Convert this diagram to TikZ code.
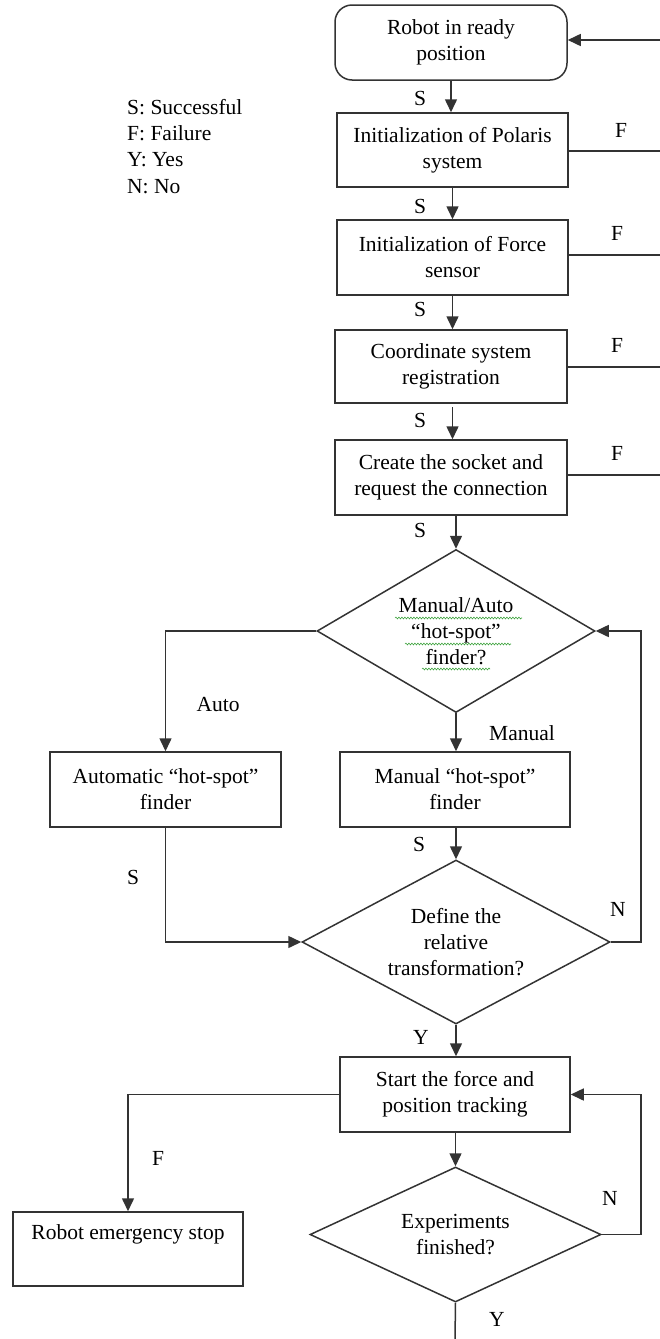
\documentclass[tikz,border=0pt]{standalone}
\usepackage{fontspec}
\setmainfont{Liberation Serif}
\usetikzlibrary{arrows.meta,shapes.geometric,decorations.pathmorphing}
\definecolor{linec}{HTML}{333333}
\definecolor{spellc}{HTML}{3FA33F}
\tikzset{
  base/.style={font=\fontsize{21.5}{26}\selectfont, text=black},
  box/.style={base, draw=linec, line width=1.5pt, rectangle, align=center, inner sep=0pt},
  rbox/.style={box, rounded corners=17pt},
  decision/.style={base, draw=linec, line width=1.5pt, diamond, align=center, inner sep=0pt},
  lbl/.style={base, inner sep=0pt},
  conn/.style={draw=linec, line width=1.5pt},
  arr/.style={conn, -{Triangle[length=13pt,width=12pt]}},
  wavy/.style={draw=spellc, line width=0.6pt, decorate,
    decoration={snake, segment length=3pt, amplitude=0.9pt}},
}
\begin{document}
\begin{tikzpicture}[x=1pt,y=-1pt]
\useasboundingbox (0,0) rectangle (660,1339);

% legend
\node[lbl, anchor=west] (lgS) at (127,107) {S: Successful};
\node[lbl, anchor=west] (lgF) at (127,133) {F: Failure};
\node[lbl, anchor=west] (lgY) at (127,160) {Y: Yes};
\node[lbl, anchor=west] (lgN) at (127,187) {N: No};

% main column
\node[rbox, minimum width=232pt, minimum height=75pt] (ready) at (451,42.5) {Robot in ready\\position};
\node[box, minimum width=231pt, minimum height=74pt] (polaris) at (452.5,150) {Initialization of Polaris\\system};
\node[box, minimum width=231pt, minimum height=75pt] (force) at (452.5,257.5) {Initialization of Force\\sensor};
\node[box, minimum width=232pt, minimum height=73pt] (coord) at (451,366.5) {Coordinate system\\registration};
\node[box, minimum width=232pt, minimum height=75pt] (socket) at (451,477.5) {Create the socket and\\request the connection};

\node[decision, shape aspect=1.7, minimum width=278pt, minimum height=163pt] (hsq) at (456,631)
  {Manual/Auto\\“hot-spot”\\finder?};

\node[box, minimum width=231pt, minimum height=75pt] (auto) at (165.5,789.5) {Automatic “hot-spot”\\finder};
\node[box, minimum width=230pt, minimum height=75pt] (manual) at (455,789.5) {Manual “hot-spot”\\finder};

\node[decision, shape aspect=1.88, minimum width=308pt, minimum height=164pt] (rel) at (456,942)
  {Define the\\relative\\transformation?};

\node[box, minimum width=230pt, minimum height=75pt] (track) at (455,1094.5) {Start the force and\\position tracking};
\node[box, minimum width=230pt, minimum height=74pt] (stop) at (128,1249) {Robot emergency stop\\\strut};

\node[decision, shape aspect=2.15, minimum width=291pt, minimum height=135pt] (done) at (455.5,1234.5)
  {Experiments\\finished?};

% spell-check marks under the question text
\draw[wavy] ([shift={(-61,-13)}]hsq.center) -- ([shift={(66,-13)}]hsq.center);
\draw[wavy] ([shift={(-51,13)}]hsq.center) -- ([shift={(55,13)}]hsq.center);
\draw[wavy] ([shift={(-34,38)}]hsq.center) -- ([shift={(34,38)}]hsq.center);

% free ends at the page edge and the right-hand return line
\coordinate (eR) at (660,40);
\coordinate (e2) at (660,151);
\coordinate (e3) at (660,255);
\coordinate (e4) at (660,367);
\coordinate (e5) at (660,475);
\coordinate (loopx) at (641,0);
\coordinate (bottom) at (455,1339);

% success path
\draw[arr] (ready.south) -- (ready.south |- polaris.north);
\draw[arr] (polaris.south) -- (polaris.south |- force.north);
\draw[arr] (force.south) -- (force.south |- coord.north);
\draw[arr] (force.south |- 0,407) -- (force.south |- socket.north);
\draw[arr] (socket.south -| hsq.north) -- (hsq.north);

% failure exits to the right edge
\draw[arr] (eR) -- (eR -| ready.east);
\draw[conn] (e2 -| polaris.east) -- (e2);
\draw[conn] (e3 -| force.east) -- (e3);
\draw[conn] (e4 -| coord.east) -- (e4);
\draw[conn] (e5 -| socket.east) -- (e5);

% hot-spot branches
\draw[arr] (hsq.west) -| (auto.north);
\draw[arr] (hsq.south) -- (hsq.south |- manual.north);
\draw[arr] (manual.south -| rel.north) -- (rel.north);
\draw[arr] (auto.south) |- (rel.west);
\draw[arr] (rel.east) -- (rel.east -| loopx) |- (hsq.east);

% tracking loop
\draw[arr] (rel.south) -- (rel.south |- track.north);
\draw[arr] (track.west) -| (stop.north);
\draw[arr] (track.south -| done.north) -- (done.north);
\draw[arr] (done.east) -- (done.east -| loopx) |- (track.east);
\draw[conn] (done.south) -- (bottom);

% edge labels
\node[lbl] (s1) at (420,98) {S};
\node[lbl] (s2) at (420,206) {S};
\node[lbl] (s3) at (420,309) {S};
\node[lbl] (s4) at (420,420) {S};
\node[lbl] (s5) at (420,530) {S};
\node[lbl] (f2) at (621,130) {F};
\node[lbl] (f3) at (617,233) {F};
\node[lbl] (f4) at (617,345) {F};
\node[lbl] (f5) at (617,453) {F};
\node[lbl] (lAuto) at (218,704) {Auto};
\node[lbl] (lMan) at (522,733) {Manual};
\node[lbl] (s6) at (419,844) {S};
\node[lbl] (s7) at (133,877) {S};
\node[lbl] (n1) at (618,909) {N};
\node[lbl] (y1) at (421,1037) {Y};
\node[lbl] (f6) at (158,1158) {F};
\node[lbl] (n2) at (610,1198) {N};
\node[lbl] (y2) at (497,1319) {Y};
\end{tikzpicture}
\end{document}
